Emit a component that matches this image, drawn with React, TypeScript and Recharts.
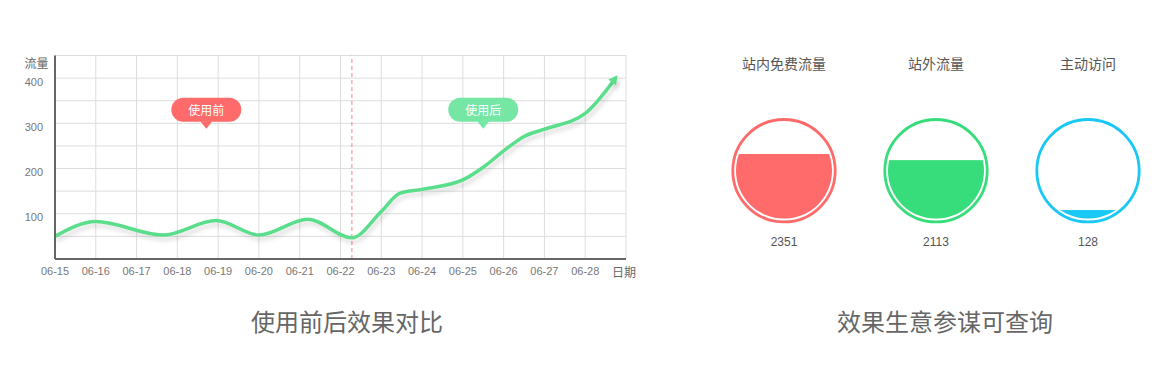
import React from 'react';
import {
  LineChart,
  Line,
  XAxis,
  YAxis,
  CartesianGrid,
  ReferenceLine,
  ReferenceDot,
  BarChart,
  Bar,
} from 'recharts';

// ---------- Left chart data ----------
const dateLabels = [
  '06-15', '06-16', '06-17', '06-18', '06-19', '06-20', '06-21',
  '06-22', '06-23', '06-24', '06-25', '06-26', '06-27', '06-28',
];
const axisEndLabel = '日期';
const xTicks = [0, 1, 2, 3, 4, 5, 6, 7, 8, 9, 10, 11, 12, 13, 14];
const yTicks = [0, 50, 100, 150, 200, 250, 300, 350, 400, 450];
const yLabelTicks = [100, 200, 300, 400];
const yAxisTitle = '流量';

// x position (in day index from 06-15) and traffic value of each curve point
const pointX = [0, 1.0, 2.65, 3.95, 5.0, 6.2, 7.28, 8.0, 8.45, 9.0, 10.0, 10.5, 11.0, 11.5, 12.0, 13.0, 13.75];
const pointTraffic = [50, 83, 53, 85, 53, 88, 47, 105, 145, 154, 175, 203, 239, 271, 287, 322, 401];

const splitX = 7.28;

const noteLabels = ['使用前', '使用后'];
const noteX = [3.71, 10.5];
const noteY = [288, 288];
const noteColors = ['#ff6b6b', '#76e6a5'];

// ---------- Right chart data ----------
const sourceNames = ['站内免费流量', '站外流量', '主动访问'];
const sourceValues = [2351, 2113, 128];
const sourceLevels = [67.4, 61, 9];
const sourceColors = ['#ff6b6b', '#37dc7b', '#1ac8f5'];

const leftTitle = '使用前后效果对比';
const rightTitle = '效果生意参谋可查询';

const lineData = pointX.map((x, i) => ({ x, traffic: pointTraffic[i] }));
const gaugeData = sourceNames.map((name, i) => ({
  name,
  value: sourceValues[i],
  level: sourceLevels[i],
  color: sourceColors[i],
}));

const FONT = '"Liberation Sans", "Noto Sans CJK SC", sans-serif';
const CJK = '"Noto Sans CJK SC", "Liberation Sans", sans-serif';
const LINE_COLOR = '#5ade8c';

const XTick = (props: any) => {
  const { x, y, payload } = props;
  const i = payload.value as number;
  const isEnd = i >= dateLabels.length;
  return (
    <text
      x={isEnd ? x - 2 : x}
      y={y + 4}
      textAnchor="middle"
      dominantBaseline="central"
      fontSize={isEnd ? 12 : 11}
      fontFamily={isEnd ? CJK : FONT}
      fill={isEnd ? '#666' : '#777'}
    >
      {isEnd ? axisEndLabel : dateLabels[i]}
    </text>
  );
};

const YTick = (props: any) => {
  const { x, y, payload } = props;
  const v = payload.value as number;
  if (v === yTicks[yTicks.length - 1]) {
    return (
      <text x={x - 6.5} y={y + 6.5} textAnchor="end" dominantBaseline="central" fontSize={12} fontFamily={CJK} fill="#666">
        {yAxisTitle}
      </text>
    );
  }
  if (yLabelTicks.indexOf(v) >= 0) {
    return (
      <text x={x - 12} y={y + 3.5} textAnchor="end" dominantBaseline="central" fontSize={11} fontFamily={FONT} fill="#777">
        {v}
      </text>
    );
  }
  return <g />;
};

const renderArrow = (props: any) => {
  const { cx, cy, index } = props;
  if (index !== lineData.length - 1) return <g key={`dot-${index}`} />;
  return (
    <polygon
      key={`dot-${index}`}
      points="3,0 -6,-4.8 -6,4.8"
      transform={`translate(${cx},${cy}) rotate(-52)`}
      fill={LINE_COLOR}
    />
  );
};

const makeBubble = (label: string, color: string) => (props: any) => {
  const { cx, cy } = props;
  return (
    <g>
      <rect x={cx - 35} y={cy - 31} width={70} height={24} rx={12} ry={12} fill={color} />
      <polygon points={`${cx - 6},${cy - 7.5} ${cx + 6},${cy - 7.5} ${cx},${cy}`} fill={color} />
      <text x={cx} y={cy - 19} textAnchor="middle" dominantBaseline="central" fill="#fff" fontSize={12} fontFamily={CJK}>
        {label}
      </text>
    </g>
  );
};

const GaugeShape = (props: any) => {
  const { x, y, width, height, index, payload } = props;
  const color = (payload && payload.color) || sourceColors[index];
  const cx = x + width / 2;
  const bottom = y + height;
  const r = width / 2;
  const cy = bottom - r;
  const id = `gauge-clip-${index}`;
  return (
    <g>
      <defs>
        <clipPath id={id}>
          <circle cx={cx} cy={cy} r={r} />
        </clipPath>
      </defs>
      <circle cx={cx} cy={cy} r={r + 3.2} fill="none" stroke={color} strokeWidth={2.8} />
      <rect x={x} y={y} width={width} height={height} fill={color} clipPath={`url(#${id})`} />
    </g>
  );
};

const TopTick = (props: any) => {
  const { x, y, payload } = props;
  return (
    <text x={x} y={y} textAnchor="middle" dominantBaseline="central" fontSize={14} fontFamily={CJK} fill="#555">
      {payload.value}
    </text>
  );
};

const BottomTick = (props: any) => {
  const { x, y, index } = props;
  return (
    <text x={x} y={y} textAnchor="middle" dominantBaseline="central" fontSize={12} fontFamily={FONT} fill="#555">
      {gaugeData[index] ? gaugeData[index].value : ''}
    </text>
  );
};

export default function App() {
  return (
    <div style={{ position: 'absolute', left: 0, top: 0, width: 1176, height: 372, background: '#fff', overflow: 'hidden' }}>
      <style>{`.recharts-line-curve, .recharts-line-dots { filter: drop-shadow(2px 4px 2px rgba(0,0,0,0.13)); }`}</style>
      <div style={{ position: 'absolute', left: 0, top: 0 }}>
        <LineChart width={660} height={300} data={lineData} margin={{ top: 55.5, right: 34, bottom: 11, left: 20 }}>
          <CartesianGrid stroke="#dddddd" strokeWidth={1} />
          <XAxis
            dataKey="x"
            type="number"
            domain={[0, 14]}
            ticks={xTicks}
            interval={0}
            height={30}
            tickSize={0}
            tickMargin={8}
            tick={<XTick />}
            axisLine={{ stroke: '#666', strokeWidth: 2 }}
            tickLine={false}
          />
          <YAxis
            type="number"
            domain={[0, 450]}
            ticks={yTicks}
            interval={0}
            width={35}
            tickSize={0}
            tickMargin={0}
            tick={<YTick />}
            axisLine={{ stroke: '#666', strokeWidth: 2 }}
            tickLine={false}
          />
          <ReferenceLine x={splitX} stroke="#f08585" strokeDasharray="4 3" strokeWidth={1} />
          <Line
            type="monotone"
            dataKey="traffic"
            stroke={LINE_COLOR}
            strokeWidth={3.5}
            dot={renderArrow}
            activeDot={false}
            isAnimationActive={false}
          />
          {noteLabels.map((label, i) => (
            <ReferenceDot
              key={label}
              x={noteX[i]}
              y={noteY[i]}
              r={0}
              shape={makeBubble(label, noteColors[i])}
            />
          ))}
        </LineChart>
      </div>
      <div style={{ position: 'absolute', left: 700, top: 0 }}>
        <BarChart width={472} height={300} data={gaugeData} margin={{ top: 62.7, right: 8, bottom: 41.3, left: 8 }}>
          <XAxis
            xAxisId="top"
            orientation="top"
            dataKey="name"
            height={60}
            axisLine={false}
            tickLine={false}
            tickSize={0}
            tickMargin={59.5}
            interval={0}
            tick={<TopTick />}
          />
          <XAxis
            xAxisId="bottom"
            dataKey="name"
            height={40}
            axisLine={false}
            tickLine={false}
            tickSize={0}
            tickMargin={23}
            interval={0}
            tick={<BottomTick />}
          />
          <YAxis hide domain={[0, 100]} />
          <Bar xAxisId="bottom" dataKey="level" barSize={96} shape={GaugeShape} isAnimationActive={false} />
        </BarChart>
      </div>
      <svg width={1176} height={372} style={{ position: 'absolute', left: 0, top: 0, pointerEvents: 'none' }}>
        <text x={347} y={320} textAnchor="middle" dominantBaseline="central" fontSize={24} fontFamily={CJK} fill="#666">
          {leftTitle}
        </text>
        <text x={945} y={320} textAnchor="middle" dominantBaseline="central" fontSize={24} fontFamily={CJK} fill="#666">
          {rightTitle}
        </text>
      </svg>
    </div>
  );
}
